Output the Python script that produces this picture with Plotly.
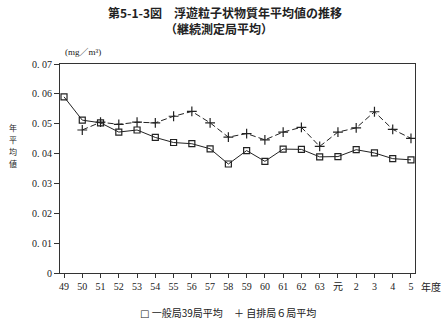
import plotly.graph_objects as go

years = ["49", "50", "51", "52", "53", "54", "55", "56", "57", "58",
         "59", "60", "61", "62", "63", "元", "2", "3", "4", "5"]
general = [0.0590, 0.0512, 0.0503, 0.0472, 0.0479, 0.0454, 0.0437, 0.0433, 0.0416, 0.0365,
           0.0410, 0.0374, 0.0415, 0.0414, 0.0389, 0.0390, 0.0413, 0.0402, 0.0383, 0.0379]
roadside = [None, 0.0479, 0.0505, 0.0498, 0.0505, 0.0503, 0.0525, 0.0541, 0.0503, 0.0455,
            0.0467, 0.0446, 0.0472, 0.0488, 0.0424, 0.0472, 0.0486, 0.0540, 0.0481, 0.0451]
ytick_vals = [0, 0.01, 0.02, 0.03, 0.04, 0.05, 0.06, 0.07]
ytick_text = ["0", "0. 01", "0. 02", "0. 03", "0. 04", "0. 05", "0. 06", "0. 07"]
name_general = "一般局39局平均"
name_roadside = "自排局６局平均"
ytitle_chars = ["年", "平", "均", "値"]

xi = list(range(len(years)))
fig = go.Figure()
fig.add_trace(go.Scatter(
    x=xi, y=general, mode="lines+markers", name=name_general, showlegend=False,
    line=dict(color="#222", width=1),
    marker=dict(symbol="square-open", size=6, color="#222", line=dict(width=1.2)),
))
fig.add_trace(go.Scatter(
    x=xi, y=roadside, mode="lines+markers", name=name_roadside, showlegend=False,
    line=dict(color="#222", width=1, dash="6px,3px"),
    marker=dict(symbol="cross-thin-open", size=7, color="#222", line=dict(width=1.2, color="#222")),
))

serif = "Liberation Serif, Noto Sans CJK JP"
cjk = "Noto Sans CJK JP"

W, H = 445, 324
l, r, t, b = 60, 30, 64, 51
pw, ph = W - l - r, H - t - b


def px(x, y, text, size=10, family=cjk, xanchor="center"):
    return dict(text=text, x=(x - l) / pw, y=1 - (y - t) / ph, xref="paper", yref="paper",
                showarrow=False, xanchor=xanchor, yanchor="middle",
                font=dict(size=size, family=family, color="#222"))


anns = [
    px(225, 13, "<b>第5-1-3図　浮遊粒子状物質年平均値の推移</b>", 12),
    px(219, 28, "<b>（継続測定局平均）</b>", 12),
    px(63, 52, "(mg／m³)", 9, serif, "left"),
    px(419, 286, "年度", 10, cjk, "left"),
    px(138, 312, "<span style=\"font-family:DejaVu Sans\">□</span> " + name_general, 10, cjk, "left"),
    px(232, 312, "＋ " + name_roadside, 10, cjk, "left"),
]
for i, ch in enumerate(ytitle_chars):
    anns.append(px(13, 127 + i * 12, ch, 8))

fig.update_layout(
    width=W, height=H,
    margin=dict(l=l, r=r, t=t, b=b),
    paper_bgcolor="white", plot_bgcolor="white",
    font=dict(family=cjk, color="#222", size=10),
    showlegend=False,
    xaxis=dict(
        range=[-0.22, 19.22], tickmode="array", tickvals=xi, ticktext=years,
        showgrid=False, zeroline=False, showline=True, linecolor="#333", linewidth=1,
        mirror=True, ticks="outside", ticklen=4, tickcolor="#333",
        tickfont=dict(family=serif, size=10, color="#222"),
    ),
    yaxis=dict(
        range=[0, 0.07], tickmode="array", tickvals=ytick_vals, ticktext=ytick_text,
        showgrid=False, zeroline=False, showline=True, linecolor="#333", linewidth=1,
        mirror=True, ticks="outside", ticklen=5, tickcolor="#333",
        tickfont=dict(family=serif, size=10, color="#222"),
    ),
    annotations=anns,
)

fig.write_html("out.html")
